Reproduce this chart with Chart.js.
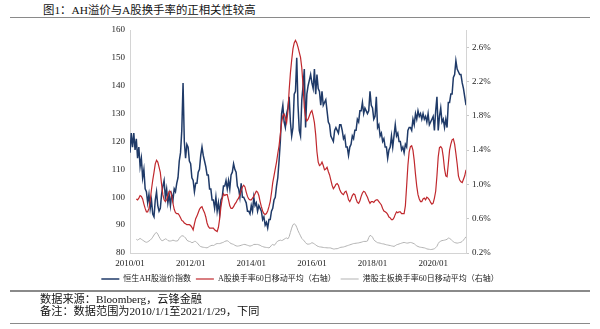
<!DOCTYPE html>
<html>
<head>
<meta charset="utf-8">
<script src="https://cdn.jsdelivr.net/npm/chart.js@4.4.1/dist/chart.umd.min.js"></script>
<style>
  html, body { margin: 0; padding: 0; background: #fff; }
  #wrap { position: relative; width: 600px; height: 329px; overflow: hidden;
          font-family: "Liberation Serif", "Noto Sans CJK SC", serif; color: #111; }
  #title { position: absolute; left: 43px; top: 3px; font-size: 11.4px; line-height: 14px; }
  .rule { position: absolute; left: 10px; width: 580px; background: #8a8a8a; }
  #chartBox { position: absolute; left: 0; top: 0; width: 600px; height: 293px; }
  .note { position: absolute; left: 40px; font-size: 11.2px; line-height: 13px; }
</style>
</head>
<body>
<div id="wrap">
  <div id="title">图1：AH溢价与A股换手率的正相关性较高</div>
  <div class="rule" style="top:17px;height:1px;"></div>
  <div id="chartBox"><canvas id="myChart"></canvas></div>
  <div class="rule" style="top:290px;height:2px;"></div>
  <div class="note" style="top:293px;">数据来源：Bloomberg，云锋金融</div>
  <div class="note" style="top:305px;">备注：数据范围为2010/1/1至2021/1/29，下同</div>
  <div class="rule" style="top:323px;height:1px;"></div>
</div>

<script>
// half-month sampling, first point = 2010/01
const firstYear = 2010;
const perYear = 24;

// 恒生AH股溢价指数 (left axis)
const ahPremium = [
  116,123,118,123,117,121,114,118,111,114,107,110,103,102,98,101,96,99,94,93,99,102,97,95,
  96,101,104,106,100,103,98,101,97,101,99,103,102,105,107,113,116,124,141,120,114,119,118,113,
  112,107,106,102,105,105,109,110,115,118,115,113,111,108,108,103,103,99,99,96,100,95,98,94,
  99,100,104,104,106,103,106,103,108,109,112,110,109,104,103,100,105,100,100,99,98,95,95,94,
  97,95,100,97,98,95,97,96,95,92,93,90,91,89,92,92,95,96,99,100,104,107,113,120,
  130,133,127,125,130,132,136,127,122,125,137,138,150,133,124,122,135,140,146,125,137,140,142,144,
  141,139,146,137,144,139,138,133,138,133,134,135,131,127,126,122,121,120,124,125,124,123,126,126,
  124,121,122,118,118,115,118,119,122,121,124,124,128,127,131,131,134,130,132,131,130,131,138,133,
  132,128,129,136,125,126,122,123,120,121,118,118,114,117,118,122,118,122,126,122,123,120,120,117,
  118,116,119,118,124,125,125,124,128,126,130,128,131,129,130,128,130,128,129,127,130,126,127,128,
  129,124,131,136,124,129,132,127,128,125,128,125,134,134,137,137,143,144,149,146,145,144,144,141,
  139,136,133
];

// A股换手率60日移动平均, % (right axis), starts mid-March 2010
const turnoverStart = 5;
const aTurnover = [
  0.83,0.82,0.84,0.87,0.86,0.83,0.77,0.72,0.68,0.68,0.72,0.81,0.94,1.05,1.14,1.24,1.28,1.26,1.20,
  1.14,1.00,0.88,0.82,0.80,0.82,0.87,0.92,0.92,0.87,0.78,0.71,0.67,0.66,0.66,0.64,0.61,0.58,0.57,0.55,0.54,0.53,0.53,0.53,
  0.52,0.50,0.47,0.54,0.60,0.63,0.67,0.71,0.73,0.74,0.70,0.67,0.62,0.55,0.51,0.49,0.49,0.49,0.49,0.47,0.46,0.45,0.50,0.60,
  0.74,0.83,0.89,0.87,0.88,0.88,0.82,0.75,0.72,0.72,0.74,0.77,0.79,0.82,0.84,0.88,0.93,0.97,0.99,0.97,0.91,0.86,0.83,0.82,
  0.82,0.84,0.86,0.89,0.92,0.91,0.87,0.80,0.74,0.69,0.66,0.65,0.66,0.69,0.74,0.80,0.90,1.02,1.10,1.18,1.26,1.36,1.45,1.58,
  1.72,1.80,1.82,1.78,1.72,1.85,2.10,2.30,2.45,2.58,2.65,2.68,2.65,2.60,2.54,2.48,2.36,2.15,1.90,1.78,1.74,1.76,1.80,1.84,
  1.86,1.80,1.72,1.58,1.38,1.26,1.22,1.23,1.26,1.22,1.17,1.18,1.20,1.15,1.11,1.05,0.99,0.95,0.97,1.00,1.01,0.99,0.94,0.91,
  0.89,0.88,0.91,0.92,0.88,0.82,0.80,0.83,0.87,0.89,0.88,0.83,0.79,0.78,0.81,0.86,0.90,0.92,0.91,0.88,0.85,0.81,0.78,0.80,
  0.80,0.79,0.81,0.82,0.82,0.80,0.78,0.76,0.72,0.69,0.68,0.67,0.65,0.62,0.61,0.59,0.59,0.61,0.65,0.68,0.67,0.68,0.68,0.66,
  0.66,0.66,0.75,0.98,1.22,1.38,1.44,1.45,1.40,1.28,1.12,0.98,0.88,0.83,0.80,0.80,0.83,0.84,0.82,0.85,0.84,0.82,0.79,0.77,
  0.78,0.84,0.92,1.10,1.32,1.43,1.44,1.42,1.32,1.18,1.10,1.09,1.24,1.40,1.47,1.52,1.53,1.47,1.36,1.24,1.10,1.05,1.03,1.02,
  1.06,1.10,1.17
];

// 港股主板换手率60日移动平均, % (right axis)
const hkTurnover = [
  0.36,0.35,0.36,0.37,0.36,0.35,0.34,0.33,0.325,0.33,0.34,0.35,0.365,0.385,0.41,0.43,0.44,0.42,0.39,
  0.365,0.345,0.345,0.355,0.365,0.36,0.345,0.34,0.34,0.343,0.35,0.345,0.34,0.34,0.345,0.37,0.39,0.40,0.40,0.39,0.375,0.35,0.34,0.335,
  0.33,0.32,0.325,0.335,0.335,0.32,0.305,0.285,0.275,0.27,0.267,0.265,0.262,0.26,0.268,0.278,0.285,0.29,0.287,0.295,0.305,0.31,0.31,0.31,
  0.315,0.32,0.325,0.335,0.34,0.343,0.335,0.32,0.31,0.305,0.30,0.29,0.283,0.28,0.282,0.285,0.29,0.295,0.30,0.30,0.295,0.29,0.285,0.28,
  0.285,0.29,0.30,0.30,0.30,0.30,0.295,0.29,0.28,0.275,0.27,0.267,0.265,0.263,0.26,0.27,0.29,0.30,0.29,0.30,0.325,0.34,0.345,0.35,
  0.345,0.35,0.36,0.37,0.375,0.365,0.39,0.44,0.49,0.53,0.54,0.53,0.50,0.46,0.43,0.40,0.37,0.355,0.34,0.32,0.305,0.303,0.305,0.31,
  0.32,0.315,0.305,0.295,0.283,0.277,0.272,0.27,0.268,0.265,0.263,0.262,0.26,0.26,0.26,0.258,0.252,0.247,0.247,0.25,0.25,0.255,0.262,0.267,
  0.268,0.27,0.275,0.28,0.285,0.29,0.295,0.30,0.305,0.31,0.312,0.314,0.316,0.318,0.322,0.325,0.33,0.335,0.335,0.335,0.34,0.38,0.405,0.40,
  0.385,0.355,0.34,0.33,0.32,0.318,0.315,0.31,0.307,0.305,0.30,0.296,0.293,0.29,0.287,0.283,0.28,0.277,0.285,0.295,0.30,0.305,0.31,0.315,
  0.32,0.323,0.32,0.316,0.316,0.32,0.323,0.32,0.314,0.308,0.295,0.283,0.276,0.27,0.267,0.265,0.262,0.26,0.255,0.248,0.245,0.243,0.24,0.242,
  0.245,0.25,0.262,0.278,0.31,0.33,0.338,0.345,0.347,0.35,0.354,0.36,0.374,0.37,0.36,0.345,0.33,0.322,0.318,0.315,0.318,0.322,0.325,0.335,
  0.35,0.37,0.39
];

const xTickYears = [2010, 2012, 2014, 2016, 2018, 2020];
const rightTickValues = [0.2, 0.6, 1.0, 1.4, 1.8, 2.2, 2.6];
const seriesNames = ["恒生AH股溢价指数", "A股换手率60日移动平均（右轴）", "港股主板换手率60日移动平均（右轴）"];

const toPoints = (vals, offset) =>
  vals.map((v, i) => ({ x: firstYear + (i + offset) / perYear, y: v }));

const ctx = document.getElementById("myChart");
const tickFont = { family: "'Liberation Serif', 'Noto Sans CJK SC', serif", size: 9 };

const chart = new Chart(ctx, {
  type: "line",
  data: {
    datasets: [
      {
        label: seriesNames[0],
        data: toPoints(ahPremium, 0),
        yAxisID: "y",
        borderColor: "#1f3a68",
        borderWidth: 1.5,
        pointRadius: 0,
        pointStyle: "line",
        order: 1,
      },
      {
        label: seriesNames[1],
        data: toPoints(aTurnover, turnoverStart),
        yAxisID: "y1",
        borderColor: "#c0282d",
        borderWidth: 1.2,
        pointRadius: 0,
        pointStyle: "line",
        order: 0,
      },
      {
        label: seriesNames[2],
        data: toPoints(hkTurnover, turnoverStart),
        yAxisID: "y1",
        borderColor: "#b3b3b3",
        borderWidth: 1,
        pointRadius: 0,
        pointStyle: "line",
        order: 0,
      },
    ],
  },
  options: {
    responsive: true,
    maintainAspectRatio: false,
    animation: false,
    events: [],
    layout: { padding: { top: 30, left: 0, right: 0, bottom: 0 } },
    plugins: {
      tooltip: { enabled: false },
      legend: {
        position: "bottom",
        labels: {
          usePointStyle: true,
          pointStyleWidth: 18,
          boxHeight: 8,
          padding: 5,
          color: "#222",
          font: { family: "'Liberation Serif', 'Noto Sans CJK SC', serif", size: 8 },
          sort: (a, b) => a.datasetIndex - b.datasetIndex,
        },
      },
    },
    scales: {
      x: {
        type: "linear",
        min: 2010,
        max: 2021 + 2 / 24,
        afterBuildTicks: (scale) => {
          scale.ticks = xTickYears.map((v) => ({ value: v }));
        },
        afterFit: (scale) => {
          scale.height = 17;
        },
        ticks: {
          autoSkip: false,
          maxRotation: 0,
          padding: 5,
          color: "#222",
          font: tickFont,
          callback: (v) => v + "/01",
        },
        grid: { display: false, drawTicks: false },
        border: { color: "#d4d4d4" },
      },
      y: {
        position: "left",
        min: 80,
        max: 160,
        afterFit: (scale) => {
          scale.width = 130;
        },
        ticks: { stepSize: 10, padding: 5, color: "#222", font: tickFont },
        grid: { display: false, drawTicks: false },
        border: { color: "#d4d4d4" },
      },
      y1: {
        position: "right",
        min: 0.2,
        max: 2.8,
        afterBuildTicks: (scale) => {
          scale.ticks = rightTickValues.map((v) => ({ value: v }));
        },
        afterFit: (scale) => {
          scale.width = 134;
        },
        ticks: {
          padding: 3,
          color: "#222",
          font: tickFont,
          callback: (v) => v.toFixed(1) + "%",
        },
        grid: { drawOnChartArea: false, drawTicks: true, tickLength: 3, color: "#c8c8c8" },
        border: { color: "#d4d4d4" },
      },
    },
  },
});
</script>
</body>
</html>
